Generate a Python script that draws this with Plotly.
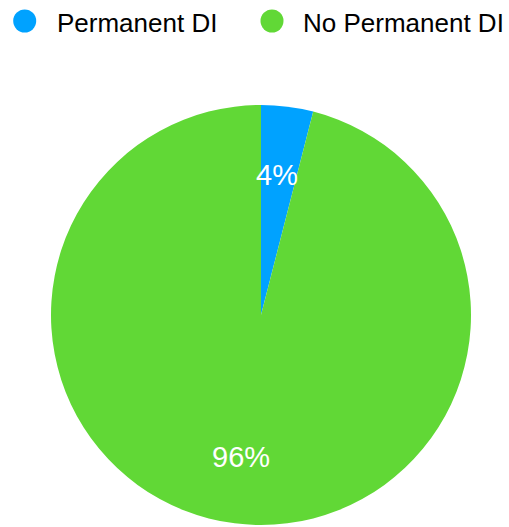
import math
import plotly.graph_objects as go

# Data
labels = ["Permanent DI", "No Permanent DI"]
values = [4, 96]
colors = ["#00A2FF", "#61D836"]

W, H = 509, 527
ML, MR, MT, MB = 51, 38, 105, 2
PW, PH = W - ML - MR, H - MT - MB


def px_x(x):
    return (x - ML) / PW


def px_y(y):
    return 1 - (y - MT) / PH


fig = go.Figure(
    go.Pie(
        labels=labels,
        values=values,
        marker=dict(colors=colors, line=dict(width=0)),
        sort=False,
        direction="clockwise",
        rotation=0,
        textinfo="none",
        hoverinfo="label+percent",
        showlegend=False,
    )
)

# Percentage labels placed along each slice bisector
total = sum(values)
cx, cy, r = ML + PW / 2, MT + PH / 2, min(PW, PH) / 2
annotations = []
cum = 0
for v in values:
    mid = (cum + v / 2) / total * 2 * math.pi
    cum += v
    x = cx + math.sin(mid) * r * 0.675
    y = cy - math.cos(mid) * r * 0.675
    annotations.append(
        dict(
            x=px_x(x - 2), y=px_y(y + 1), xref="paper", yref="paper",
            text=f"{round(v / total * 100)}%", showarrow=False,
            font=dict(family="Liberation Sans, Arial, sans-serif", size=29, color="white"),
            xanchor="center", yanchor="middle",
        )
    )

# Legend row with circular swatches
shapes = []
legend_pos = [(24.7, 55), (272, 301)]
for (cxp, tx), lab, col in zip(legend_pos, labels, colors):
    rad = 11.5
    shapes.append(
        dict(
            type="circle", xref="paper", yref="paper",
            x0=px_x(cxp - rad), x1=px_x(cxp + rad),
            y0=px_y(21 + rad), y1=px_y(21 - rad),
            fillcolor=col, line=dict(width=0),
        )
    )
    annotations.append(
        dict(
            x=px_x(tx), y=px_y(22.5), xref="paper", yref="paper",
            text=lab, showarrow=False,
            font=dict(family="Liberation Sans, Arial, sans-serif", size=26, color="black"),
            xanchor="left", yanchor="middle",
        )
    )

fig.update_layout(
    width=W, height=H,
    margin=dict(l=ML, r=MR, t=MT, b=MB),
    paper_bgcolor="white",
    plot_bgcolor="white",
    annotations=annotations,
    shapes=shapes,
)

fig.write_html("out.html")
